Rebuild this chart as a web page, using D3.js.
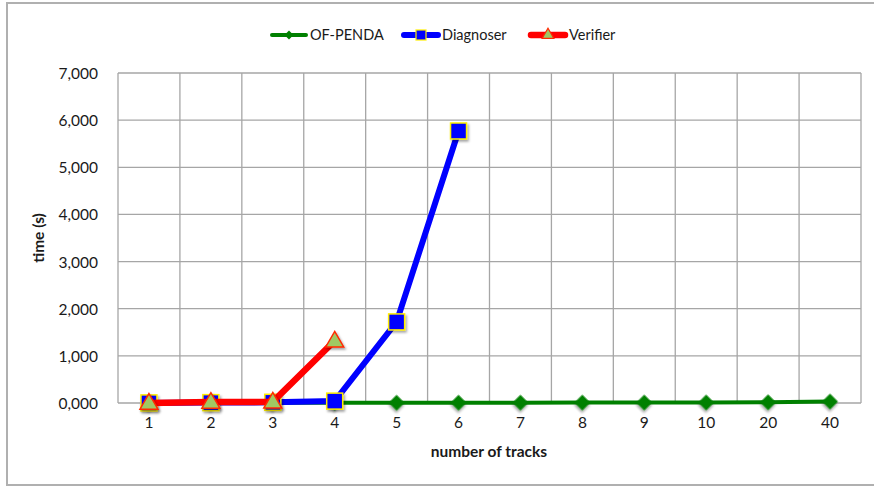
<!DOCTYPE html>
<html><head><meta charset="utf-8">
<script src="https://cdn.jsdelivr.net/npm/d3@7"></script>
<style>body{margin:0;background:#fff}svg{display:block}text{font-family:Lato,"Open Sans","Liberation Sans",sans-serif}</style>
</head><body><svg id="c" width="874" height="486"></svg>
<script>
const categories = ["1","2","3","4","5","6","7","8","9","10","20","40"];
const ofPenda = [5,5,5,5,5,6,7,8,9,10,15,30];
const diagnoser = [2,8,15,40,1720,5770];
const verifier = [1,20,25,1320];
const yTicks = [0,1000,2000,3000,4000,5000,6000,7000];
const yTickLabels = ["0,000","1,000","2,000","3,000","4,000","5,000","6,000","7,000"];
const seriesNames = ["OF-PENDA","Diagnoser","Verifier"];

const svg = d3.select("#c");
const L=118,R=861,T=73,B=403;
const FS=15.5, LFS=14.5;
// outer frame
svg.append("rect").attr("x",7).attr("y",3).attr("width",880).attr("height",482)
  .attr("fill","none").attr("stroke","#b0b0b0").attr("stroke-width",2);

const x = d3.scaleBand().domain(categories).range([L,R]);
const y = d3.scaleLinear().domain([0,7000]).range([B,T]);

// grid
const g = svg.append("g");
g.selectAll("line.h").data(yTicks).join("line")
  .attr("x1",L).attr("x2",R).attr("y1",d=>y(d)).attr("y2",d=>y(d))
  .attr("stroke","#a6a6a6").attr("stroke-width",1.3);
const bounds = categories.map(c=>x(c)).concat([R]);
g.selectAll("line.v").data(bounds).join("line")
  .attr("x1",d=>d).attr("x2",d=>d).attr("y1",T).attr("y2",B)
  .attr("stroke","#a6a6a6").attr("stroke-width",1.3);

// y axis labels
const yAx = d3.axisLeft(y).tickValues(yTicks).tickFormat((d,i)=>yTickLabels[i]).tickSize(0).tickPadding(20);
const ya = svg.append("g").attr("transform",`translate(${L},0)`).call(yAx);
ya.select(".domain").remove();
ya.selectAll("text").attr("font-size",FS).attr("fill","#1a1a1a").attr("dy","0.35em").attr("font-family","Lato,sans-serif");

// x axis labels
const xAx = d3.axisBottom(x).tickSize(0).tickPadding(14);
const xa = svg.append("g").attr("transform",`translate(0,${B})`).call(xAx);
xa.select(".domain").remove();
xa.selectAll("text").attr("font-size",FS).attr("fill","#1a1a1a").attr("font-family","Lato,sans-serif");

svg.append("text").attr("x",489).attr("y",457).attr("text-anchor","middle")
  .attr("font-size",FS).attr("font-weight","bold").attr("fill","#1a1a1a").text("number of tracks");
svg.append("text").attr("transform","translate(44,238) rotate(-90)").attr("text-anchor","middle")
  .attr("font-size",FS).attr("font-weight","bold").attr("fill","#1a1a1a").text("time (s)");

const cx = c=>x(c)+x.bandwidth()/2;
const defs = svg.append("defs");
const f = defs.append("filter").attr("id","sh").attr("x","-50%").attr("y","-50%").attr("width","200%").attr("height","200%");
f.append("feDropShadow").attr("dx",1.5).attr("dy",2).attr("stdDeviation",1.2).attr("flood-color","#000").attr("flood-opacity",0.35);

const line = d3.line().x((d,i)=>cx(categories[i])).y(d=>y(d));

// OF-PENDA
svg.append("path").datum(ofPenda).attr("d",line).attr("fill","none").attr("stroke","#008000").attr("stroke-width",4);
svg.append("g").selectAll("path").data(ofPenda).join("path")
  .attr("d",d3.symbol().type(d3.symbolSquare).size(125))
  .attr("transform",(d,i)=>`translate(${cx(categories[i])},${y(d)}) rotate(45)`)
  .attr("fill","#008000").attr("filter","url(#sh)");

// Diagnoser
svg.append("path").datum(diagnoser).attr("d",line).attr("fill","none").attr("stroke","#0000ff").attr("stroke-width",6);
svg.append("g").selectAll("rect").data(diagnoser).join("rect")
  .attr("x",(d,i)=>cx(categories[i])-8).attr("y",d=>y(d)-8).attr("width",16).attr("height",16)
  .attr("fill","#0000ff").attr("stroke","#ffee00").attr("stroke-width",1.5).attr("filter","url(#sh)");

// Verifier
svg.append("path").datum(verifier).attr("d",line).attr("fill","none").attr("stroke","#ff0000").attr("stroke-width",6.5);
svg.append("g").selectAll("path").data(verifier).join("path")
  .attr("d",d3.symbol().type(d3.symbolTriangle).size(140))
  .attr("transform",(d,i)=>`translate(${cx(categories[i])},${y(d)+1})`)
  .attr("fill","#a0c864").attr("stroke","#ff2a00").attr("stroke-width",1.5).attr("filter","url(#sh)");

// legend
const leg = [{n:seriesNames[0],x:272,c:"#008000",w:4},{n:seriesNames[1],x:404,c:"#0000ff",w:6},{n:seriesNames[2],x:531,c:"#ff0000",w:6.5}];
const ly=35;
leg.forEach((d,k)=>{
  svg.append("line").attr("x1",d.x).attr("x2",d.x+34).attr("y1",ly).attr("y2",ly)
    .attr("stroke",d.c).attr("stroke-width",d.w).attr("stroke-linecap","round");
  const mx=d.x+17;
  if(k===0) svg.append("path").attr("d",d3.symbol().type(d3.symbolSquare).size(40)).attr("transform",`translate(${mx},${ly}) rotate(45)`).attr("fill","#008000");
  if(k===1) svg.append("rect").attr("x",mx-5).attr("y",ly-5).attr("width",10).attr("height",10).attr("fill","#0000ff").attr("stroke","#ffee00").attr("stroke-width",1.2);
  if(k===2) svg.append("path").attr("d",d3.symbol().type(d3.symbolTriangle).size(60)).attr("transform",`translate(${mx},${ly})`).attr("fill","#a0c864").attr("stroke","#ff2a00").attr("stroke-width",1.2);
  svg.append("text").attr("x",d.x+38).attr("y",ly).attr("dy","0.35em").attr("font-size",LFS).attr("fill","#1a1a1a").text(d.n);
});
</script></body></html>
